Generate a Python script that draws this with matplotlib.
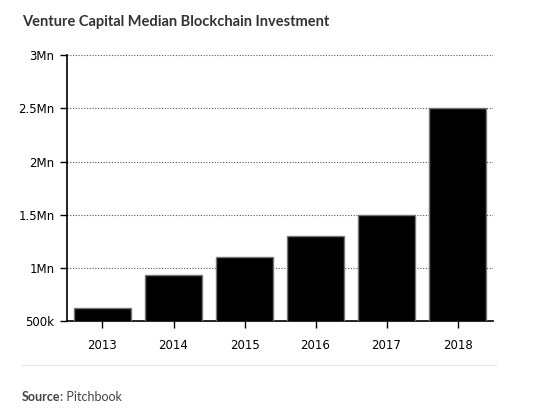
import matplotlib.pyplot as plt
import numpy as np

# Datos
anios = ['2013', '2014', '2015', '2016', '2017', '2018']
inversion = [0.62e6, 0.93e6, 1.1e6, 1.3e6, 1.5e6, 2.5e6]
ticks_y = [0.5e6, 1e6, 1.5e6, 2e6, 2.5e6, 3e6]
etiquetas_y = ['500k', '1Mn', '1.5Mn', '2Mn', '2.5Mn', '3Mn']

fig = plt.figure(figsize=(5.39, 4.18), dpi=100)
ax = fig.add_axes([0.1243, 0.232, 0.7904, 0.636])

x = np.arange(len(anios))
ax.bar(x, inversion, width=0.8, color='black', edgecolor='#777777', linewidth=1, zorder=3)

ax.set_xlim(-0.5, len(anios) - 0.5)
ax.set_ylim(0.5e6, 3e6)
ax.set_yticks(ticks_y)
ax.set_yticklabels(etiquetas_y)
ax.set_xticks(x)
ax.set_xticklabels(anios)
ax.yaxis.grid(True, linestyle=(0, (1, 1.5)), color='#555555', linewidth=0.8, zorder=0)

for s in ['top', 'right']:
    ax.spines[s].set_visible(False)
ax.spines['left'].set_linewidth(1.2)
ax.spines['bottom'].set_linewidth(1.2)
ax.tick_params(axis='both', labelsize=8.5, colors='black', length=5, width=1)
ax.tick_params(axis='x', pad=8)
ax.tick_params(axis='y', pad=4)

# Título y fuente
fig.text(22 / 539, 1 - 22 / 418, 'Venture Capital Median Blockchain Investment',
         fontsize=10.5, fontweight='bold', color='#333333', family='Lato', va='center')
fig.add_artist(plt.Line2D([22 / 539, 496 / 539], [1 - 365 / 418, 1 - 365 / 418],
                          color='#e8e8e8', linewidth=1))
t_src = fig.text(22 / 539, 1 - 397 / 418, 'Source', fontsize=9, fontweight='bold',
                 color='#444444', family='Lato', va='center')
fig.canvas.draw()
fig.text(0, 0, ': Pitchbook', fontsize=9, color='#444444', family='Lato',
         va='center')
bb = t_src.get_window_extent().transformed(fig.transFigure.inverted())
fig.texts[-1].set_position((bb.x1, 1 - 397 / 418))

plt.savefig('out.png', dpi=100)
